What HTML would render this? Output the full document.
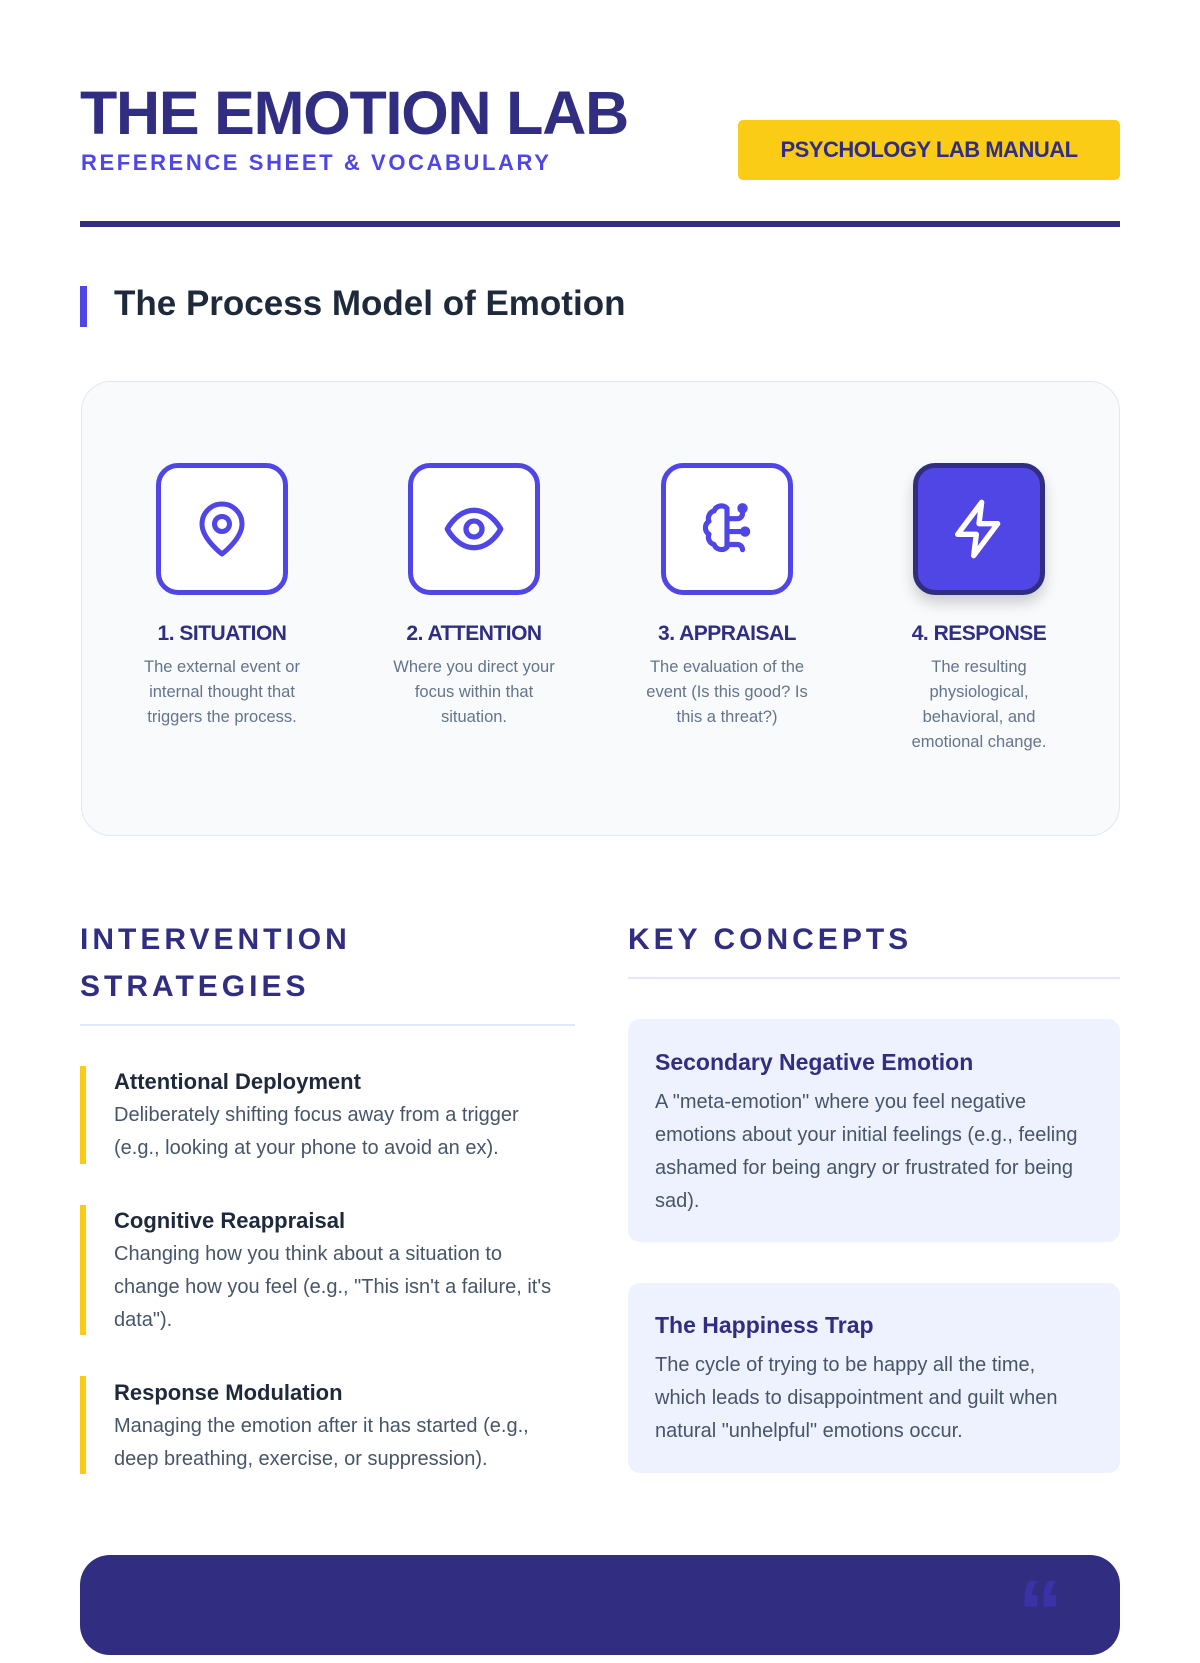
<!DOCTYPE html>
<html><head><meta charset="utf-8"><style>
*{margin:0;padding:0;box-sizing:border-box}
body{width:1200px;height:1600px;background:#fff;position:relative;overflow:hidden;font-family:"Liberation Sans",sans-serif}
.a{position:absolute}
.title{left:80px;top:82px;font-size:61px;font-weight:900;color:#312e81;letter-spacing:-1.2px;white-space:nowrap;line-height:62px}
.sub{left:81px;top:150px;font-size:22px;font-weight:700;color:#4f46e5;letter-spacing:2.6px;white-space:nowrap}
.badge{left:738px;top:120px;width:382px;height:60px;background:#facc15;border-radius:5px;color:#312e81;font-weight:900;font-size:22px;text-align:center;line-height:60px;letter-spacing:-0.5px}
.rule{left:80px;top:221px;width:1040px;height:6px;background:#312e81}
.sbar{left:80px;top:286px;width:7px;height:41px;background:#4f46e5}
.sh{left:114px;top:284px;font-size:35px;font-weight:700;color:#1e293b;white-space:nowrap}
.panel{left:81px;top:381px;width:1039px;height:455px;background:#f8fafc;border:1px solid #e2e8f0;border-radius:30px}
.ic{width:132px;height:132px;border:5px solid #4f46e5;border-radius:22px;background:#fff;top:463px;display:flex;align-items:center;justify-content:center}
.ic.dark{background:#4f46e5;border-color:#312e81;box-shadow:0 8px 14px rgba(0,0,0,.18)}
.lbl{width:240px;text-align:center;top:622px;font-size:21px;font-weight:700;color:#312e81;letter-spacing:-0.5px}
.desc{width:176px;text-align:center;top:655px;font-size:16.5px;line-height:25px;color:#64748b}
.h2{font-size:30px;font-weight:700;color:#312e81;letter-spacing:4px;line-height:47px}
.hr{height:2px;background:#e0e7ff}
.yb{left:80px;width:6px;background:#facc15}
.it{left:114px;font-size:22px;font-weight:700;color:#1e293b;white-space:nowrap}
.id{left:114px;width:445px;font-size:20px;line-height:33px;color:#475569}
.card{left:628px;width:492px;background:#eef2ff;border-radius:12px}
.ct{left:655px;font-size:23px;font-weight:700;color:#312e81;white-space:nowrap}
.cd{left:655px;width:435px;font-size:20px;line-height:33px;color:#475569}
.foot{left:80px;top:1555px;width:1040px;height:100px;background:#312e81;border-radius:30px}
</style></head><body>
<div class="a title">THE EMOTION LAB</div>
<div class="a sub">REFERENCE SHEET &amp; VOCABULARY</div>
<div class="a badge">PSYCHOLOGY LAB MANUAL</div>
<div class="a rule"></div>
<div class="a sbar"></div>
<div class="a sh">The Process Model of Emotion</div>
<div class="a panel"></div>

<div class="a ic" style="left:156px"><svg width="60" height="60" viewBox="0 0 24 24" fill="none" stroke="#4f46e5" stroke-width="2" stroke-linecap="round" stroke-linejoin="round"><path d="M20 10c0 6-8 12-8 12s-8-6-8-12a8 8 0 0 1 16 0z"/><circle cx="12" cy="10" r="3"/></svg></div>
<div class="a ic" style="left:408px"><svg width="64" height="64" viewBox="0 0 24 24" fill="none" stroke="#4f46e5" stroke-width="2" stroke-linecap="round" stroke-linejoin="round"><path d="M2 12s3.5-7 10-7 10 7 10 7-3.5 7-10 7S2 12 2 12z"/><circle cx="12" cy="12" r="3"/></svg></div>
<div class="a ic" style="left:661px"><svg width="62" height="62" viewBox="0 0 24 24" fill="none" stroke="#4f46e5" stroke-width="2" stroke-linecap="round" stroke-linejoin="round"><path d="M12 4a3 3 0 0 0-5 1 3 3 0 0 0-2 4 3 3 0 0 0 0 5 3 3 0 0 0 2 4 3 3 0 0 0 5 1z"/><path d="M12 8h4a2 2 0 0 0 2-2V4"/><path d="M12 13h6"/><path d="M12 18h4a2 2 0 0 1 2 2"/><circle cx="18" cy="4" r="1"/><circle cx="19" cy="13" r="1"/></svg></div>
<div class="a ic dark" style="left:913px"><svg width="64" height="64" viewBox="0 0 24 24" fill="none" stroke="#fff" stroke-width="2" stroke-linecap="round" stroke-linejoin="round"><path d="M13 2 4 14h7l-1 8 9-12h-7z"/></svg></div>

<div class="a lbl" style="left:102px">1. SITUATION</div>
<div class="a lbl" style="left:354px">2. ATTENTION</div>
<div class="a lbl" style="left:607px">3. APPRAISAL</div>
<div class="a lbl" style="left:859px">4. RESPONSE</div>
<div class="a desc" style="left:134px">The external event or internal thought that triggers the process.</div>
<div class="a desc" style="left:386px">Where you direct your focus within that situation.</div>
<div class="a desc" style="left:639px">The evaluation of the event (Is this good? Is this a threat?)</div>
<div class="a desc" style="left:894px;width:170px">The resulting physiological, behavioral, and emotional change.</div>

<div class="a h2" style="left:80px;top:916px">INTERVENTION<br>STRATEGIES</div>
<div class="a hr" style="left:80px;top:1024px;width:495px"></div>
<div class="a h2" style="left:628px;top:916px">KEY CONCEPTS</div>
<div class="a hr" style="left:628px;top:977px;width:492px"></div>

<div class="a yb" style="top:1066px;height:98px"></div>
<div class="a it" style="top:1069px">Attentional Deployment</div>
<div class="a id" style="top:1099px">Deliberately shifting focus away from a trigger (e.g., looking at your phone to avoid an ex).</div>
<div class="a yb" style="top:1205px;height:130px"></div>
<div class="a it" style="top:1208px">Cognitive Reappraisal</div>
<div class="a id" style="top:1238px">Changing how you think about a situation to change how you feel (e.g., "This isn't a failure, it's data").</div>
<div class="a yb" style="top:1376px;height:98px"></div>
<div class="a it" style="top:1380px">Response Modulation</div>
<div class="a id" style="top:1410px">Managing the emotion after it has started (e.g., deep breathing, exercise, or suppression).</div>

<div class="a card" style="top:1019px;height:223px"></div>
<div class="a ct" style="top:1049px">Secondary Negative Emotion</div>
<div class="a cd" style="top:1086px">A "meta-emotion" where you feel negative emotions about your initial feelings (e.g., feeling ashamed for being angry or frustrated for being sad).</div>
<div class="a card" style="top:1283px;height:190px"></div>
<div class="a ct" style="top:1312px">The Happiness Trap</div>
<div class="a cd" style="top:1349px">The cycle of trying to be happy all the time, which leads to disappointment and guilt when natural "unhelpful" emotions occur.</div>

<div class="a foot"></div>
<div class="a" style="left:1018px;top:1568px;font-size:90px;font-weight:900;color:#3b32a8;line-height:90px">&#8220;</div>
</body></html>
